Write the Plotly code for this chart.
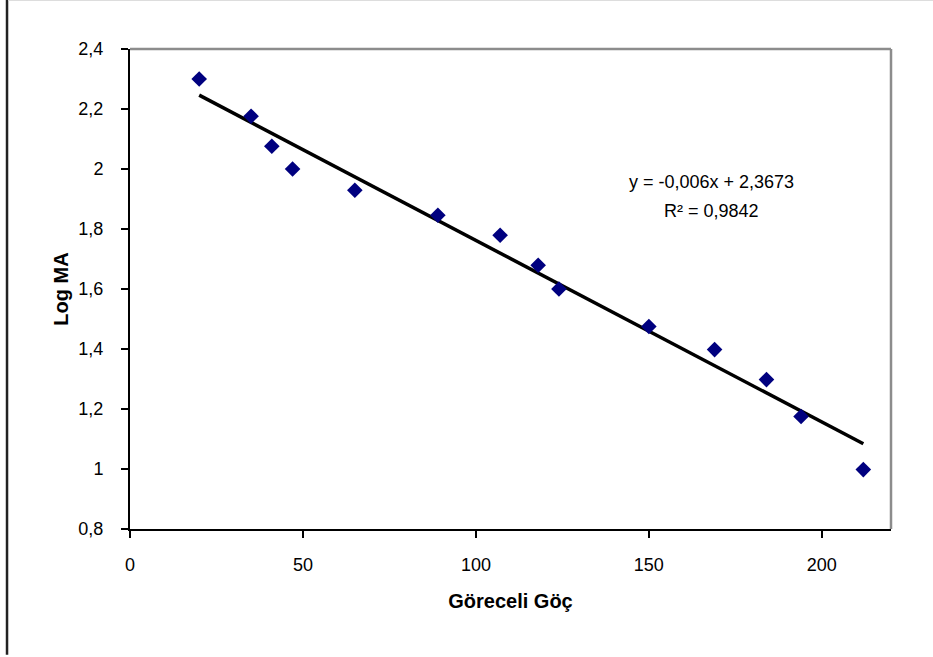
import numpy as np
import plotly.graph_objects as go

# Data
goreceli_goc = [20, 35, 41, 47, 65, 89, 107, 118, 124, 150, 169, 184, 194, 212]
log_ma = [2.30, 2.176, 2.076, 2.00, 1.929, 1.846, 1.779, 1.679, 1.600, 1.475, 1.398, 1.298, 1.175, 0.998]

x_ticks = [0, 50, 100, 150, 200]
y_ticks = [0.8, 1.0, 1.2, 1.4, 1.6, 1.8, 2.0, 2.2, 2.4]

equation_text = "y = -0,006x + 2,3673"
r2_text = "R² = 0,9842"

# linear trendline fitted to the data
slope, intercept = np.polyfit(goreceli_goc, log_ma, 1)
trend_x = [min(goreceli_goc), max(goreceli_goc)]
trend_y = [slope * v + intercept for v in trend_x]

FONT = "Liberation Sans, Arial, sans-serif"

fig = go.Figure()
fig.add_trace(go.Scatter(x=trend_x, y=trend_y, mode="lines",
                         line=dict(color="black", width=3.5), showlegend=False, hoverinfo="skip"))
fig.add_trace(go.Scatter(x=goreceli_goc, y=log_ma, mode="markers",
                         marker=dict(symbol="diamond", size=12, color="#00007f",
                                     line=dict(width=0)), showlegend=False))

fig.update_layout(
    width=933, height=657,
    margin=dict(l=130, r=42, t=49, b=128),
    paper_bgcolor="white", plot_bgcolor="white",
    separators=", ",
    font=dict(family=FONT, size=18, color="black"),
    xaxis=dict(range=[0, 220], tickvals=x_ticks, showgrid=False, zeroline=False,
               showline=True, linecolor="black", linewidth=2,
               ticks="outside", ticklen=7, tickwidth=1.5, tickcolor="black",
               ticklabelstandoff=11, tickfont=dict(size=18),
               title=dict(text="<b>Göreceli Göç</b>", font=dict(size=20, family=FONT), standoff=20)),
    yaxis=dict(range=[0.8, 2.4], tickvals=y_ticks, showgrid=False, zeroline=False,
               showline=True, linecolor="black", linewidth=2,
               ticks="outside", ticklen=7, tickwidth=1.5, tickcolor="black",
               ticklabelstandoff=14, tickfont=dict(size=18),
               title=dict(text="<b>Log MA</b>", font=dict(size=20, family=FONT), standoff=4)),
    shapes=[
        # gray plot-area border (top and right)
        dict(type="line", xref="paper", yref="paper", x0=0, x1=1, y0=1, y1=1,
             line=dict(color="#8c8c8c", width=2.5)),
        dict(type="line", xref="paper", yref="paper", x0=1, x1=1, y0=0, y1=1,
             line=dict(color="#8c8c8c", width=2.5)),
        # frame lines of the outer image
        dict(type="line", xref="paper", yref="paper", x0=-0.1616, x1=-0.1616, y0=-0.262, y1=1.11,
             line=dict(color="#222222", width=2.5)),
        dict(type="line", xref="paper", yref="paper", x0=-0.16, x1=1.06, y0=1.1015, y1=1.1015,
             line=dict(color="#dddddd", width=1.5)),
    ],
    annotations=[
        dict(text=equation_text, x=168, y=1.956, xref="x", yref="y", showarrow=False,
             font=dict(size=18, family=FONT, color="black"), xanchor="center", yanchor="middle"),
        dict(text=r2_text, x=168, y=1.859, xref="x", yref="y", showarrow=False,
             font=dict(size=18, family=FONT, color="black"), xanchor="center", yanchor="middle"),
    ],
)

fig.write_html("out.html", config={"displayModeBar": False},
               post_script="document.body.style.margin='0';document.body.style.overflow='hidden';")
